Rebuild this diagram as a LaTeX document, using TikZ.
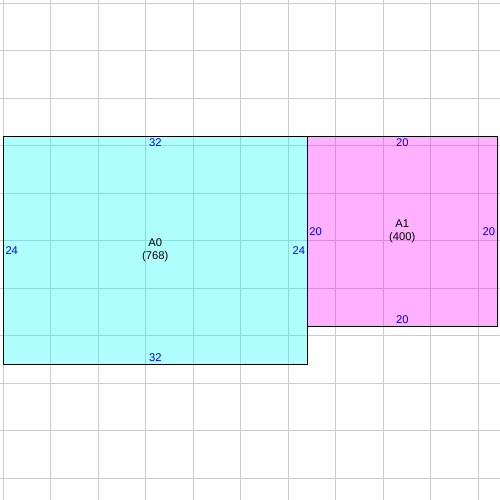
\documentclass[tikz,border=0pt]{standalone}
\usepackage{fontspec}
\setmainfont{Liberation Sans}
\definecolor{cy}{RGB}{0,255,255}
\definecolor{mg}{RGB}{255,0,255}
\definecolor{gridgray}{RGB}{204,204,204}
\definecolor{dimblue}{RGB}{0,0,255}
\begin{document}
\begin{tikzpicture}[x=0.5pt,y=-0.5pt,
  gridline/.style={draw=gridgray, line width=0.5pt},
  area/.style={rectangle, draw=black, line width=0.6pt, fill opacity=0.31, draw opacity=1, text opacity=1, inner sep=0pt, font=\fontsize{5.6}{6.2}\selectfont, align=center},
  dim/.style={text=dimblue, font=\fontsize{5.6}{6.2}\selectfont, inner sep=1.2pt}]
\useasboundingbox (0,0) rectangle (500,500);
\fill[white] (0,0) rectangle (500,500);
\foreach \i in {0,...,10} {
  \draw[gridline] ({3.3+47.5*\i},0) -- ({3.3+47.5*\i},500);
  \draw[gridline] (0,{3.3+47.5*\i}) -- (500,{3.3+47.5*\i});
}
\node[area, fill=cy, minimum width=152pt, minimum height=114pt] (a0) at (155.3,250.3) {A0\\(768)};
\node[area, fill=mg, minimum width=95pt, minimum height=95pt] (a1) at (402.3,231.3) {A1\\(400)};
\node[dim, anchor=north] (a0t) at (a0.north) {32};
\node[dim, anchor=south] (a0b) at (a0.south) {32};
\node[dim, anchor=west] (a0l) at (a0.west) {24};
\node[dim, anchor=east] (a0r) at (a0.east) {24};
\node[dim, anchor=north] (a1t) at (a1.north) {20};
\node[dim, anchor=south] (a1b) at (a1.south) {20};
\node[dim, anchor=west] (a1l) at (a1.west) {20};
\node[dim, anchor=east] (a1r) at (a1.east) {20};
\end{tikzpicture}
\end{document}
